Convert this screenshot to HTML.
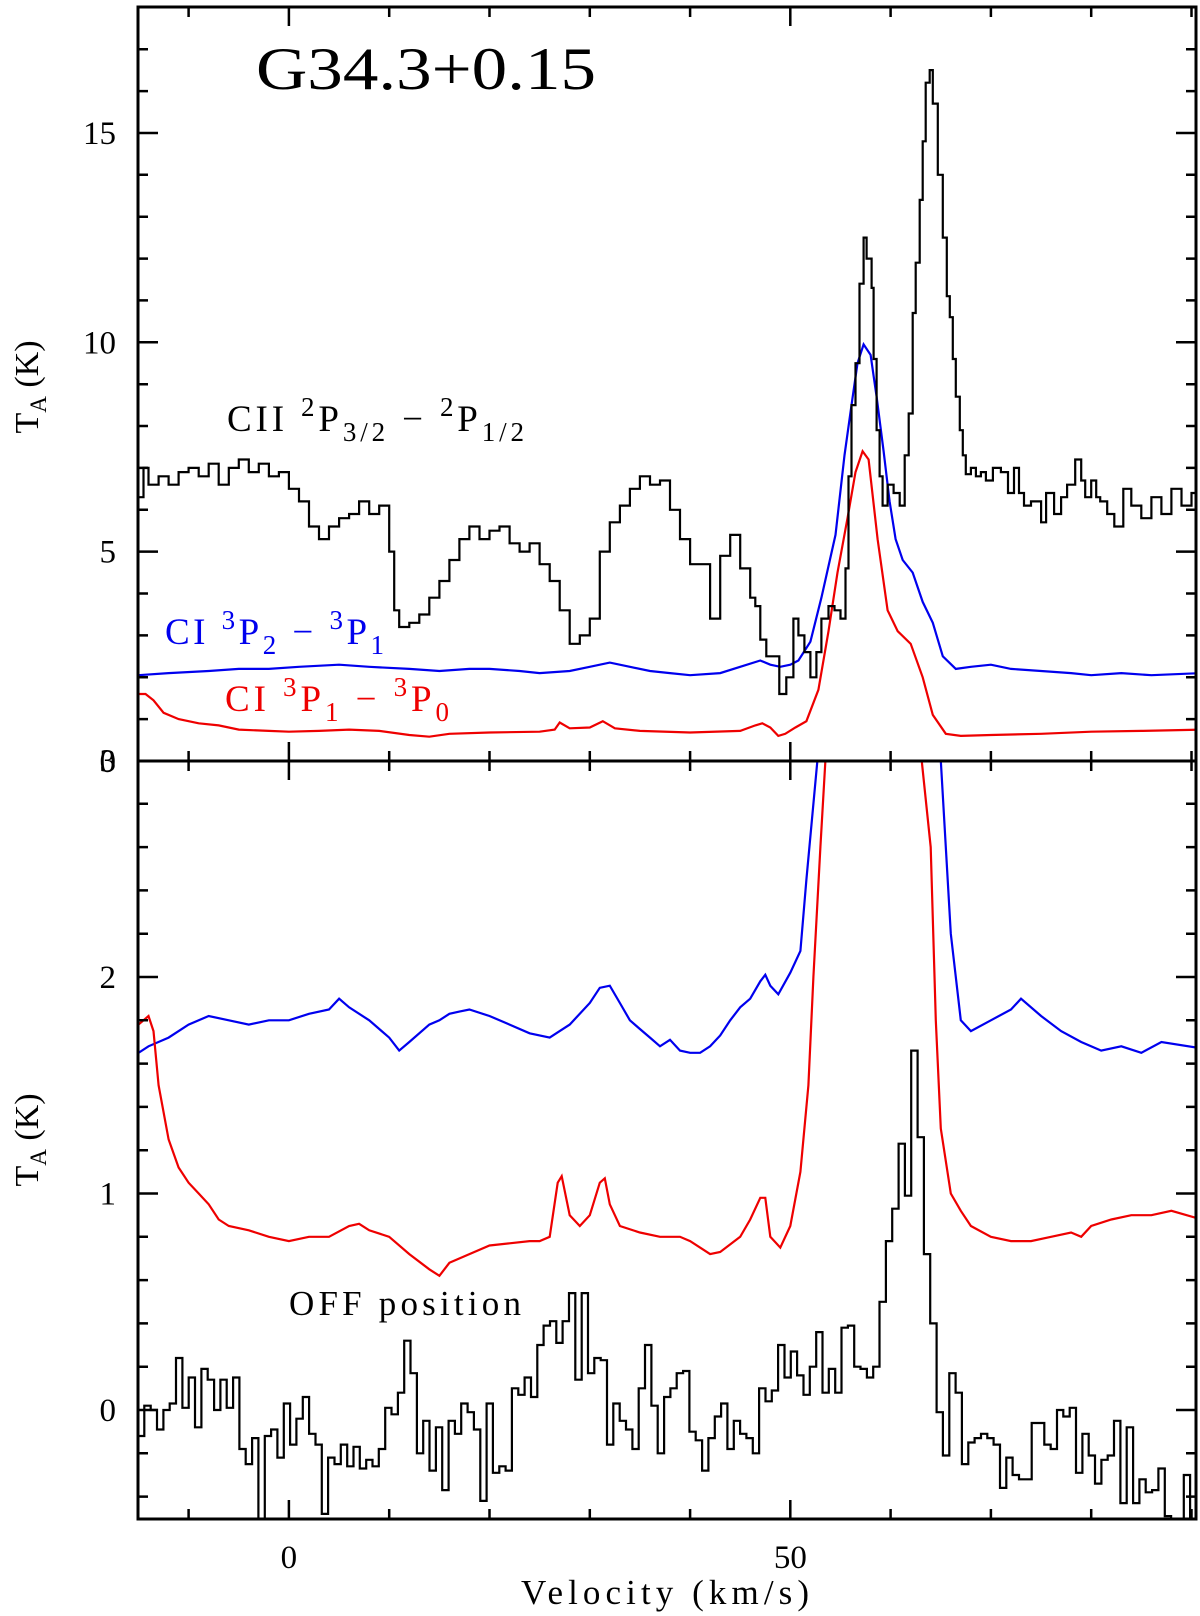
<!DOCTYPE html>
<html><head><meta charset="utf-8">
<style>
html,body{margin:0;padding:0;background:#fff;}
svg{display:block;}
text{font-family:"Liberation Serif",serif;fill:#000;}
</style></head>
<body>
<svg id="chart" width="1200" height="1616" viewBox="0 0 1200 1616" xmlns="http://www.w3.org/2000/svg">
<defs>
<clipPath id="clipTop"><rect x="138" y="7" width="1058" height="754"/></clipPath>
<clipPath id="clipBot"><rect x="138" y="761" width="1058" height="758"/></clipPath>
</defs>
<g id="topCurves" clip-path="url(#clipTop)"></g>
<g id="botCurves" clip-path="url(#clipBot)"></g>
<g id="axes"></g>
<text x="256" y="89" font-size="60" textLength="340" lengthAdjust="spacingAndGlyphs">G34.3+0.15</text>
<text x="227" y="431" font-size="37" textLength="297" lengthAdjust="spacing">CII <tspan dy="-15" font-size="27">2</tspan><tspan dy="15">P</tspan><tspan dy="10" font-size="27">3/2</tspan><tspan dy="-10"> − </tspan><tspan dy="-15" font-size="27">2</tspan><tspan dy="15">P</tspan><tspan dy="10" font-size="27">1/2</tspan></text>
<text x="165" y="644" font-size="37" style="fill:#0000ee" textLength="219" lengthAdjust="spacing">CI <tspan dy="-15" font-size="27" style="fill:#0000ee">3</tspan><tspan dy="15" style="fill:#0000ee">P</tspan><tspan dy="10" font-size="27" style="fill:#0000ee">2</tspan><tspan dy="-10" style="fill:#0000ee"> − </tspan><tspan dy="-15" font-size="27" style="fill:#0000ee">3</tspan><tspan dy="15" style="fill:#0000ee">P</tspan><tspan dy="10" font-size="27" style="fill:#0000ee">1</tspan></text>
<text x="225" y="711" font-size="37" style="fill:#ee0000" textLength="224" lengthAdjust="spacing">CI <tspan dy="-15" font-size="27" style="fill:#ee0000">3</tspan><tspan dy="15" style="fill:#ee0000">P</tspan><tspan dy="10" font-size="27" style="fill:#ee0000">1</tspan><tspan dy="-10" style="fill:#ee0000"> − </tspan><tspan dy="-15" font-size="27" style="fill:#ee0000">3</tspan><tspan dy="15" style="fill:#ee0000">P</tspan><tspan dy="10" font-size="27" style="fill:#ee0000">0</tspan></text>
<text x="289" y="1315" font-size="35" textLength="232" lengthAdjust="spacing">OFF position</text>
<text x="521" y="1604" font-size="35" textLength="288" lengthAdjust="spacing">Velocity (km/s)</text>
<text transform="translate(38,387) rotate(-90)" font-size="34" text-anchor="middle">T<tspan dy="8" font-size="23">A</tspan><tspan dy="-8"> (K)</tspan></text>
<text transform="translate(38,1140) rotate(-90)" font-size="34" text-anchor="middle">T<tspan dy="8" font-size="23">A</tspan><tspan dy="-8"> (K)</tspan></text>
</svg>
<script>
// ---- data ----
const ciiV = [-15,-14.5,-14,-13,-12,-11,-10,-9,-8,-7,-6,-5,-4,-3,-2,-1,0,1,2,3,4,5,6,7,8,9,10,10.5,11,12,13,14,15,16,17,18,19,20,21,22,23,24,25,26,27,28,29,30,31,32,33,34,35,36,37,38,39,40,41,42,43,44,45,46,46.5,47,47.6,48.9,49.6,50.3,50.8,51.4,52,52.6,53.1,53.8,54.4,55,55.5,55.8,56.1,56.5,56.9,57.3,57.6,58.1,58.3,58.6,58.9,59.2,59.7,60.3,60.9,61.4,61.8,62.2,62.5,62.9,63.2,63.5,63.9,64.2,64.7,65.2,65.6,65.9,66.2,66.5,66.9,67.2,67.5,68,68.5,69,69.5,70.2,71,71.7,72.3,72.8,73.3,74,75,75.5,76.3,77,77.6,78.4,79,79.4,80,80.5,80.9,81.6,82.3,83.2,84,85,86,87,88,89,90,91];
const ciiT = [6.3,7.0,6.6,6.8,6.6,6.9,7.0,6.8,7.1,6.6,7.0,7.2,6.9,7.1,6.8,6.9,6.5,6.2,5.6,5.3,5.6,5.8,5.9,6.2,5.9,6.1,5.0,3.6,3.2,3.3,3.5,3.9,4.3,4.8,5.3,5.6,5.3,5.5,5.6,5.2,5.0,5.2,4.7,4.3,3.6,2.8,3.0,3.4,5.0,5.7,6.1,6.5,6.8,6.6,6.7,6.0,5.3,4.7,4.7,3.4,4.9,5.4,4.6,3.9,3.7,2.9,2.5,1.6,2.0,3.4,3.0,2.6,2.0,2.6,3.4,3.7,3.6,3.4,4.6,6.8,8.5,9.5,11.4,12.5,12.0,11.3,9.6,7.9,6.8,6.1,6.6,6.4,6.1,7.3,8.3,10.7,11.9,13.4,14.8,16.2,16.5,15.7,14.0,12.5,11.1,10.6,9.6,8.7,7.9,7.3,6.85,7.0,6.8,6.9,6.7,7.0,6.9,6.4,7.0,6.4,6.1,6.2,5.7,6.4,5.9,6.3,6.6,7.2,6.7,6.3,6.7,6.3,6.2,5.9,5.6,6.5,6.1,5.8,6.3,5.9,6.5,6.1,6.4];
const blueTopV = [-15,-12,-8,-5,-2,1,5,8,12,15,18,20,23,25,28,30,32,34,36,38,40,43,45,47,48,49,50,50.8,52,53.1,54.5,55.4,56.1,56.7,57.3,58,58.6,59.3,59.9,60.5,61.2,62.2,63.2,64.2,65.2,66.5,68,70,72,75,78,80,83,86,91];
const blueTopT = [2.05,2.1,2.15,2.2,2.2,2.25,2.3,2.25,2.2,2.15,2.2,2.2,2.15,2.1,2.15,2.25,2.35,2.25,2.15,2.1,2.05,2.1,2.25,2.4,2.3,2.25,2.3,2.4,2.85,3.9,5.4,7.3,8.5,9.5,9.95,9.7,8.7,7.4,6.2,5.3,4.8,4.5,3.8,3.3,2.5,2.2,2.25,2.3,2.2,2.15,2.1,2.05,2.1,2.05,2.1];
const redTopV = [-15,-14.3,-13.5,-12.5,-11,-9,-7,-5,-2,0,3,6,9,12,14,16,20,25,26.5,27,28,30,31.3,32.5,35,40,45,46.5,47.2,48,48.8,49.5,50.5,51.6,52.8,53.8,54.7,55.7,56.5,57.2,57.8,58.7,59.7,60.7,62,63.2,64.2,65.5,67,70,75,80,85,91];
const redTopT = [1.6,1.6,1.45,1.15,1.0,0.9,0.85,0.75,0.72,0.7,0.72,0.75,0.72,0.62,0.58,0.65,0.68,0.7,0.75,0.92,0.78,0.8,0.95,0.78,0.72,0.68,0.72,0.85,0.9,0.8,0.6,0.65,0.8,0.95,1.7,3.1,4.5,5.8,6.9,7.4,7.2,5.3,3.6,3.1,2.8,2.0,1.1,0.65,0.6,0.62,0.65,0.7,0.72,0.75];
const blueBotV = [-15,-14,-12,-10,-8,-6,-4,-2,0,2,4,5,6,8,10,11,12,14,15,16,17,18,20,22,24,26,27,28,30,31,32,33,34,35,36,37,38,39,40,41,42,43,44,45,46,47,47.5,48,48.8,50,51,51.6,52.7,53.5,64,65,66,67,68,70,72,73,75,77,79,81,83,85,87,91];
const blueBotT = [1.65,1.68,1.72,1.78,1.82,1.8,1.78,1.8,1.8,1.83,1.85,1.9,1.86,1.8,1.72,1.66,1.7,1.78,1.8,1.83,1.84,1.85,1.82,1.78,1.74,1.72,1.75,1.78,1.88,1.95,1.96,1.88,1.8,1.76,1.72,1.68,1.71,1.66,1.65,1.65,1.68,1.73,1.8,1.86,1.9,1.98,2.01,1.96,1.92,2.02,2.12,2.45,3.0,3.6,3.6,3.0,2.2,1.8,1.75,1.8,1.85,1.9,1.82,1.75,1.7,1.66,1.68,1.65,1.7,1.67];
const redBotV = [-15,-14,-13.5,-13,-12,-11,-10,-9,-8,-7,-6,-4,-2,0,2,4,6,7,8,10,12,14,15,16,18,20,22,24,25,26,26.8,27.2,28,29,30,31,31.5,32,33,35,37,39,40,42,43,45,46,47,47.5,48,49,50,51,51.8,52.3,53,53.5,54.2,62.8,63.1,64,64.5,65,66,67,68,70,72,74,76,78,79,80,82,84,86,88,91];
const redBotT = [1.78,1.82,1.75,1.5,1.25,1.12,1.05,1.0,0.95,0.88,0.85,0.83,0.8,0.78,0.8,0.8,0.85,0.86,0.83,0.8,0.72,0.65,0.62,0.68,0.72,0.76,0.77,0.78,0.78,0.8,1.05,1.08,0.9,0.85,0.9,1.05,1.07,0.95,0.85,0.82,0.8,0.8,0.78,0.72,0.73,0.8,0.88,0.98,0.98,0.8,0.75,0.85,1.1,1.5,2.0,2.6,3.0,3.6,3.6,3.0,2.6,1.8,1.3,1.0,0.92,0.85,0.8,0.78,0.78,0.8,0.82,0.8,0.85,0.88,0.9,0.9,0.92,0.88];
const offV0 = -15.05;
const offDv = 0.632;
const offT = [-0.12,0.02,0.0,-0.09,0.0,0.03,0.24,0.01,0.15,-0.08,0.19,0.14,0.0,0.14,0.01,0.15,-0.18,-0.25,-0.13,-0.6,-0.12,-0.09,-0.22,0.03,-0.16,-0.04,0.06,-0.11,-0.16,-0.48,-0.22,-0.25,-0.16,-0.26,-0.17,-0.27,-0.23,-0.26,-0.18,0.01,-0.02,0.08,
0.32,0.17,-0.20,-0.05,-0.28,-0.08,-0.37,-0.05,-0.11,0.03,-0.01,-0.09,-0.42,0.03,-0.29,-0.26,-0.28,0.10,0.07,0.15,0.06,0.30,0.39,0.41,0.31,0.41,0.54,0.14,0.54,0.17,0.24,0.23,-0.16,0.03,-0.05,-0.09,-0.18,0.10,0.30,0.02,-0.20,0.06,0.10,0.17,0.18,-0.10,-0.14,-0.28,-0.13,-0.03,0.03,-0.18,-0.05,-0.11,-0.13,-0.20,0.10,0.04,0.09,0.30,0.15,0.27,0.16,0.07,
0.20,0.36,0.08,0.19,0.08,0.38,0.39,0.20,0.19,0.15,0.20,0.50,0.78,0.93,1.23,0.99,1.66,1.26,0.72,0.40,-0.01,-0.21,0.17,0.08,-0.25,-0.15,-0.13,-0.11,-0.13,-0.16,-0.36,-0.22,-0.30,-0.32,-0.32,-0.06,-0.06,-0.16,-0.18,0.00,-0.03,0.01,-0.29,-0.11,-0.21,-0.34,-0.23,-0.21,-0.05,-0.43,-0.08,-0.43,-0.32,-0.38,-0.37,-0.27,-0.49,-0.6,-0.6,-0.30,-0.6];
const xTickLabels = ["0","50"];
const xTickValues = [0,50];
const topTickValues = [0,5,10,15];
const topTickLabels = ["0","5","10","15"];
const botTickValues = [0,1,2,3];
const botTickLabels = ["0","1","2","3"];

// ---- axes functions ----
const L=138,R=1196,XMIN=-15.05,XMAX=90.45;
const TOP0=761,TOPK=41.87,BOT0=1410,BOTK=216.5, YT=7, YM=761, YB=1519;
const xs=v=>L+(v-XMIN)*(R-L)/(XMAX-XMIN);
const yt=t=>TOP0-t*TOPK;
const yb=t=>BOT0-t*BOTK;
const NS='http://www.w3.org/2000/svg';
function mk(tag,attrs,parent){const e=document.createElementNS(NS,tag);for(const k in attrs)e.setAttribute(k,attrs[k]);parent.appendChild(e);return e;}
function linePath(V,T,ys){return V.map((v,i)=>(i?'L':'M')+xs(v).toFixed(1)+','+ys(T[i]).toFixed(1)).join('');}
function stepPath(V,T,ys){let d='';for(let i=0;i<T.length;i++){const x0=xs(V[i]),x1=xs(i+1<V.length?V[i+1]:V[i]+1),y=ys(T[i]).toFixed(1);d+=(i?'L':'M')+x0.toFixed(1)+','+y+'L'+x1.toFixed(1)+','+y;}return d;}

const gT=document.getElementById('topCurves'), gB=document.getElementById('botCurves'), gA=document.getElementById('axes');
let p;
p=mk('path',{d:linePath(blueTopV,blueTopT,yt),fill:'none',stroke:'#0000ee','stroke-width':2.2},gT);


p=mk('path',{d:linePath(redTopV,redTopT,yt),fill:'none',stroke:'#ee0000','stroke-width':2.2},gT);


p=mk('path',{d:stepPath(ciiV,ciiT,yt),fill:'none',stroke:'#000','stroke-width':2.2},gT);


p=mk('path',{d:linePath(blueBotV,blueBotT,yb),fill:'none',stroke:'#0000ee','stroke-width':2.2},gB);


p=mk('path',{d:linePath(redBotV,redBotT,yb),fill:'none',stroke:'#ee0000','stroke-width':2.2},gB);


const offV=offT.map((t,i)=>offV0+i*offDv);
p=mk('path',{d:stepPath(offV.concat([offV0+offT.length*offDv]),offT,yb),fill:'none',stroke:'#000','stroke-width':2.2},gB);



p=mk('rect',{x:L,y:YT,width:R-L,height:YB-YT,fill:'none',stroke:'#000','stroke-width':3},gA);


p=mk('line',{x1:L,x2:R,y1:YM,y2:YM,stroke:'#000','stroke-width':3},gA);



let td='';
for(let v=-10;v<=90;v+=10){const x=xs(v).toFixed(1),len=(v%50===0)?19:10;
 td+=`M${x},${YT}v${len}M${x},${YM}v${-len}M${x},${YM}v${len}M${x},${YB}v${-len}`;}
for(let t=1;t<=17;t++){const y=yt(t).toFixed(1),len=(t%5===0)?20:10;td+=`M${L},${y}h${len}M${R},${y}h${-len}`;}
for(let k=-2;k<=14;k++){const t=k*0.2,y=yb(t).toFixed(1),len=(k%5===0)?20:10;if(yb(t)>YB||yb(t)<YM)continue;td+=`M${L},${y}h${len}M${R},${y}h${-len}`;}
p=mk('path',{d:td,stroke:'#000','stroke-width':2.5,fill:'none'},gA);



xTickValues.forEach((v,i)=>{const t=mk('text',{x:xs(v),y:1568,'font-size':33,'text-anchor':'middle'},gA);t.textContent=xTickLabels[i];
 
 });
topTickValues.forEach((v,i)=>{const t=mk('text',{x:116,y:yt(v)+11,'font-size':33,'text-anchor':'end'},gA);t.textContent=topTickLabels[i];
 
 });
botTickValues.forEach((v,i)=>{const t=mk('text',{x:116,y:yb(v)+11,'font-size':33,'text-anchor':'end'},gA);t.textContent=botTickLabels[i];
 
 });
</script>
</body></html>
